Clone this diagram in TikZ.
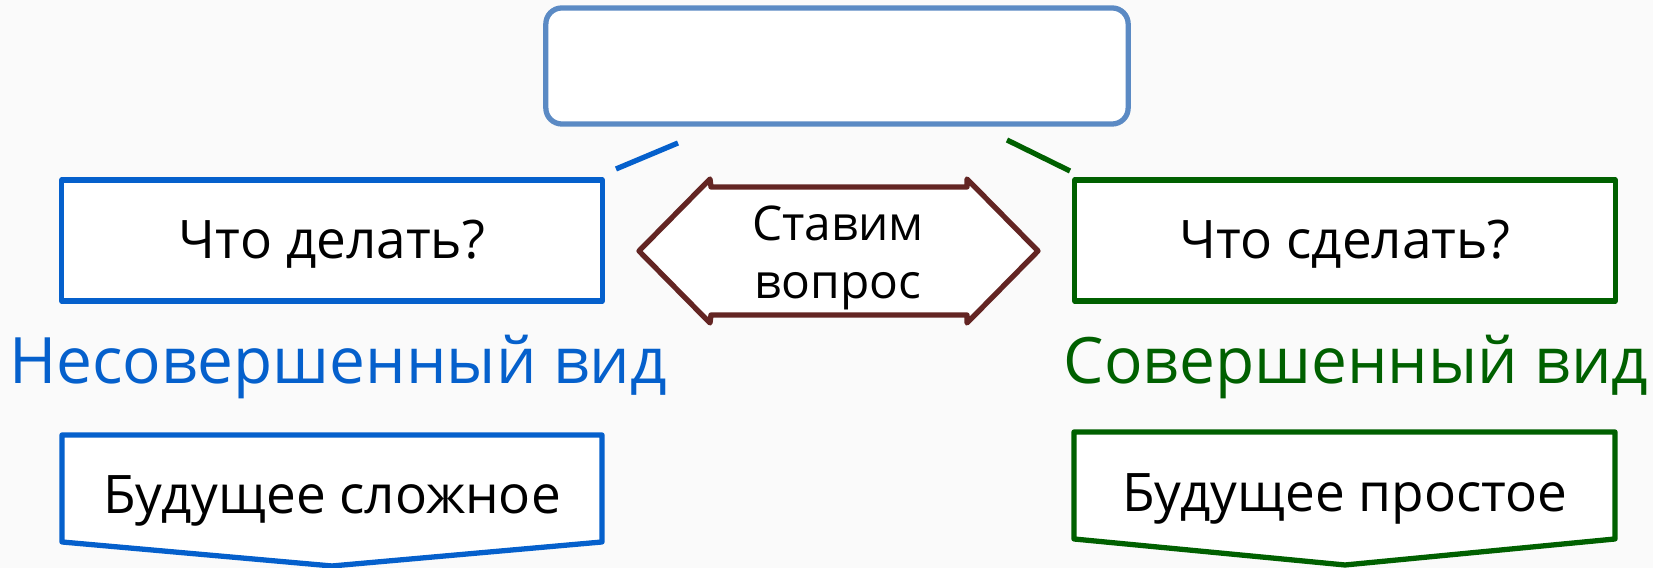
\documentclass[tikz,border=0pt]{standalone}
\usepackage{fontspec}
\setmainfont{Open Sans}
\definecolor{kindblue}{RGB}{5,96,204}
\definecolor{kindgreen}{RGB}{0,96,0}
\definecolor{headblue}{RGB}{91,138,196}
\definecolor{askbrown}{RGB}{99,37,35}
\definecolor{paper}{RGB}{250,250,250}

\tikzset{
  qbox/.style={draw, fill=white, minimum width=5.4cm, minimum height=1.21cm,
    inner sep=0pt},
  qtext/.style={inner sep=0pt, font=\fontsize{15.1}{18}\selectfont},
  kind/.style={inner sep=0pt, font=\fontsize{18.2}{22}\selectfont}
}

\begin{document}
\begin{tikzpicture}[x=0.01cm, y=-0.01cm, line width=1.5pt, line join=round]
  \def\Xl{332};
  \def\Xr{1345};
  \def\Xm{838};
  \def\Yq{240.5};
  \def\Yk{367};

  % paper
  \fill[paper] (0,0) rectangle (1653,568);
  \useasboundingbox (0,0) rectangle (1653,568);

  % title box
  \node[draw=headblue, fill=white, rounded corners=0.16cm, minimum width=5.82cm,
    minimum height=1.16cm] (head) at (\Xm - 1, 66) {};

  % question boxes
  \node[qbox, draw=kindblue] (doq) at (\Xl, \Yq) {};
  \node[qbox, draw=kindgreen] (doneq) at (\Xr, \Yq) {};
  \node[qtext] (doqt) at (\Xl, \Yq + 4) {Что делать?};
  \node[qtext] (doneqt) at (\Xr, \Yq + 4) {Что сделать?};

  % short strokes
  \coordinate (sl1) at (616, 169);
  \coordinate (sl2) at (678, 143);
  \coordinate (sr1) at (1007, 140);
  \coordinate (sr2) at (1070, 171);
  \draw[kindblue] (sl1) -- (sl2);
  \draw[kindgreen] (sr1) -- (sr2);

  % double arrow
  \draw[askbrown, fill=white] (639, 251) -- (710, 179) -- (711, 187) -- (967, 187)
    -- (967, 179) -- (1038, 251) -- (967, 323) -- (967, 315) -- (711, 315)
    -- (710, 323) -- cycle;
  \node[align=center, inner sep=0pt, font=\fontsize{13.6}{16.5}\selectfont]
    (ask) at (\Xm, 258) {Ставим\\вопрос};

  % kinds
  \node[kind, text=kindblue] (imperf) at (338, \Yk) {Несовершенный вид};
  \node[kind, text=kindgreen] (perf) at (1356, \Yk) {Совершенный вид};

  % future tenses
  \draw[kindblue, fill=white] (62, 435) -- (602, 435) -- (602, 542)
    -- (\Xl, 566) -- (62, 542) -- cycle;
  \draw[kindgreen, fill=white] (1074, 432) -- (1615, 432) -- (1615, 539)
    -- (\Xr, 565) -- (1074, 539) -- cycle;
  \node[qtext] (futl) at (\Xl, 501) {Будущее сложное};
  \node[qtext] (futr) at (\Xr, 499) {Будущее простое};
\end{tikzpicture}
\end{document}
